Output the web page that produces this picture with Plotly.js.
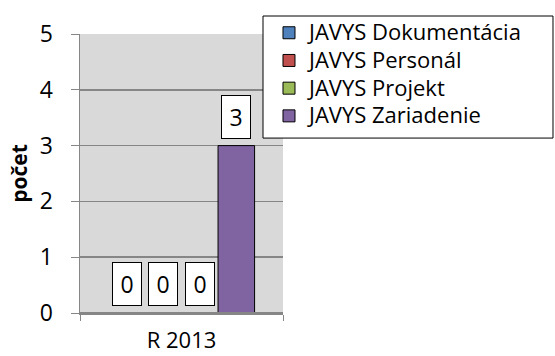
<!DOCTYPE html>
<html>
<head>
<meta charset="utf-8">
<script src="https://cdn.plot.ly/plotly-3.0.1.min.js"></script>
<style>
  html, body { margin: 0; padding: 0; background: #fff; }
  #chart { width: 555px; height: 356px; }
</style>
</head>
<body>
<div id="chart"></div>
<script>
var categories = ["R 2013"];
var seriesNames = ["JAVYS Dokumentácia", "JAVYS Personál", "JAVYS Projekt", "JAVYS Zariadenie"];
var seriesValues = [[0], [0], [0], [3]];
var seriesColors = ["#4f81bd", "#c0504d", "#9bbb59", "#8064a2"];

var bargap = 0.28;
var font = "Open Sans, Liberation Sans, sans-serif";

var data = seriesNames.map(function (name, i) {
  return {
    type: "bar",
    // legend rows are spaced for 19px, text drawn larger
    name: '<span style="font-size:22px">' + name + "</span>",
    x: categories,
    y: seriesValues[i],
    marker: { color: seriesColors[i], line: { color: "#000", width: 1 } },
    hoverinfo: "skip"
  };
});

// value labels in white boxes above each bar
var annotations = [];
var n = seriesNames.length;
var barW = (1 - bargap) / n;
seriesValues.forEach(function (vals, i) {
  vals.forEach(function (v, j) {
    annotations.push({
      x: j - (1 - bargap) / 2 + barW * (i + 0.5),
      y: v,
      xref: "x",
      yref: "y",
      text: String(v),
      showarrow: false,
      yanchor: "bottom",
      yshift: 7,
      width: 22,
      height: 36,
      bgcolor: "#fff",
      bordercolor: "#000",
      borderwidth: 1,
      borderpad: 3,
      font: { family: font, size: 23, color: "#000" }
    });
  });
});

var layout = {
  width: 555,
  height: 356,
  margin: { l: 80, r: 272, t: 34, b: 43 },
  paper_bgcolor: "#fff",
  plot_bgcolor: "#d9d9d9",
  font: { family: font, size: 22, color: "#000" },
  barmode: "group",
  bargap: bargap,
  bargroupgap: 0,
  showlegend: true,
  legend: {
    x: 0.931,
    y: 1.072,
    xanchor: "left",
    yanchor: "top",
    bgcolor: "rgba(0,0,0,0)",
    borderwidth: 0,
    font: { family: font, size: 19, color: "#000" },
    tracegroupgap: 0
  },
  // legend frame
  shapes: [{
    type: "rect",
    xref: "paper",
    yref: "paper",
    x0: 0.9015,
    x1: 2.33,
    y0: 0.627,
    y1: 1.0645,
    fillcolor: "#fff",
    line: { color: "#000", width: 1 },
    layer: "above"
  }],
  xaxis: {
    type: "category",
    showline: true,
    linecolor: "#868686",
    linewidth: 1.5,
    layer: "above traces",
    ticks: "outside",
    tickson: "boundaries",
    ticklen: 6,
    tickcolor: "#868686",
    ticklabelstandoff: 7,
    showgrid: false,
    tickfont: { size: 22 }
  },
  yaxis: {
    range: [0, 5],
    dtick: 1,
    showline: true,
    linecolor: "#868686",
    linewidth: 1.5,
    ticks: "outside",
    ticklen: 8,
    tickcolor: "#868686",
    ticklabelstandoff: 13,
    gridcolor: "#868686",
    gridwidth: 1.5,
    zeroline: true,
    zerolinecolor: "#868686",
    zerolinewidth: 2,
    zerolinelayer: "above traces",
    tickfont: { size: 23 },
    title: { text: "<b>počet</b>", font: { size: 21 }, standoff: 6 }
  },
  annotations: annotations
};

Plotly.newPlot("chart", data, layout, { staticPlot: true, displayModeBar: false });
</script>
</body>
</html>
